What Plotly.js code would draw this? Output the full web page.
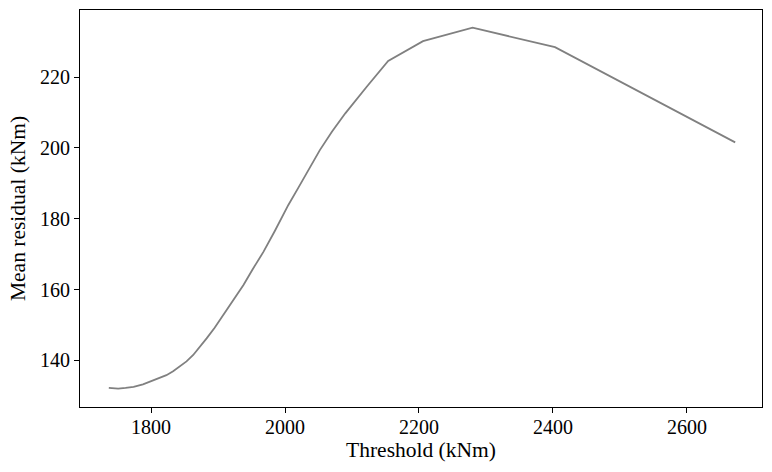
<!DOCTYPE html>
<html><head><meta charset="utf-8">
<script src="https://cdn.plot.ly/plotly-3.0.1.min.js"></script>
<style>html,body{margin:0;padding:0;background:#fff}</style>
</head><body>
<div id="chart" style="width:772px;height:472px"></div>
<script>
const thresholds = [1737, 1751, 1762, 1774, 1788, 1801, 1812, 1823, 1833, 1843, 1853, 1863, 1873, 1883, 1895, 1908, 1922, 1938, 1952, 1968, 1985, 2005, 2020, 2036, 2052, 2070, 2090, 2122, 2154, 2206, 2280, 2403, 2672];
const meanResidual = [132.2, 132.0, 132.2, 132.5, 133.2, 134.1, 134.9, 135.8, 136.9, 138.2, 139.7, 141.5, 143.7, 146.2, 149.2, 152.8, 156.8, 161.3, 165.8, 170.7, 176.6, 183.9, 188.8, 194.2, 199.4, 204.6, 209.8, 217.3, 224.6, 230.2, 234.0, 228.5, 201.6];

const font = {family: '"Liberation Serif", "Times New Roman", serif', color: '#000'};
Plotly.newPlot('chart', [{
  x: thresholds, y: meanResidual, type: 'scatter', mode: 'lines',
  line: {color: '#808080', width: 1.8}
}], {
  width: 772, height: 472,
  margin: {l: 80, r: 10, t: 10, b: 65},
  paper_bgcolor: '#fff', plot_bgcolor: '#fff',
  showlegend: false,
  font: Object.assign({size: 20}, font),
  xaxis: {
    range: [1694, 2712], tickvals: [1800, 2000, 2200, 2400, 2600],
    ticks: 'outside', ticklen: 5, tickcolor: '#000', showgrid: false, zeroline: false,
    showline: true, linecolor: '#000', linewidth: 1, mirror: true,
    ticklabelstandoff: -3,
    tickfont: Object.assign({size: 20}, font),
    title: {text: 'Threshold (kNm)', font: Object.assign({size: 21.5}, font), standoff: 4}
  },
  yaxis: {
    range: [126.8, 239], tickvals: [140, 160, 180, 200, 220],
    ticks: 'outside', ticklen: 5, tickcolor: '#000', showgrid: false, zeroline: false,
    showline: true, linecolor: '#000', linewidth: 1, mirror: true,
    tickfont: Object.assign({size: 20}, font),
    title: {text: 'Mean residual (kNm)', font: Object.assign({size: 21.5}, font), standoff: 8}
  }
}, {displayModeBar: false, staticPlot: true});
</script>
</body></html>
